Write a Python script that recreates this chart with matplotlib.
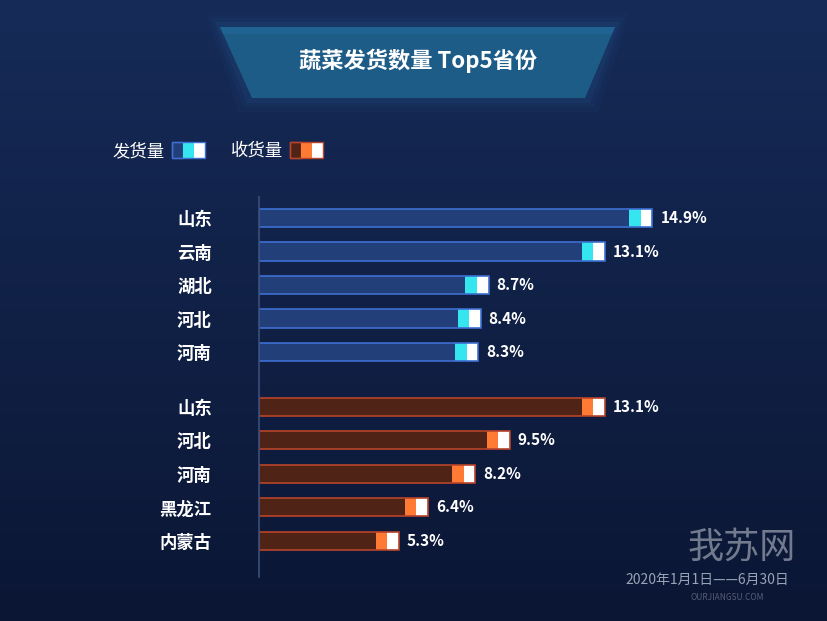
import numpy as np
import matplotlib
matplotlib.use("Agg")
import matplotlib.pyplot as plt
from matplotlib.patches import Polygon, Rectangle

plt.rcParams['font.family'] = ['Noto Sans CJK SC', 'DejaVu Sans']

# ---------------- data ----------------
title = "蔬菜发货数量 Top5省份"
send_label = "发货量"
recv_label = "收货量"
send_provinces = ["山东", "云南", "湖北", "河北", "河南"]
send_values = [14.9, 13.1, 8.7, 8.4, 8.3]
recv_provinces = ["山东", "河北", "河南", "黑龙江", "内蒙古"]
recv_values = [13.1, 9.5, 8.2, 6.4, 5.3]
date_text = "2020年1月1日——6月30日"

W, H = 828, 621
fig = plt.figure(figsize=(W / 100, H / 100), dpi=100)

# background gradient (top lighter navy, bottom darker)
bg = fig.add_axes([0, 0, 1, 1], zorder=-10)
grad = np.linspace(0, 1, 256).reshape(-1, 1)
top = np.array([0x16, 0x2b, 0x58]) / 255
bot = np.array([0x0b, 0x16, 0x34]) / 255
img = top[None, None, :] * (1 - grad[..., None]) + bot[None, None, :] * grad[..., None]
bg.imshow(img, aspect='auto', extent=[0, W, H, 0], origin='upper')
bg.set_xlim(0, W)
bg.set_ylim(H, 0)
bg.axis('off')

# title banner with glow
for k, a in [(14, 0.05), (9, 0.07), (5, 0.10)]:
    bg.add_patch(Polygon([(220 - k, 27 - k), (615 + k, 27 - k), (585 + k, 98 + k), (252 - k, 98 + k)],
                         closed=True, facecolor='#2a6fa8', edgecolor='none', alpha=a))
bg.add_patch(Polygon([(220, 27), (615, 27), (585, 98), (252, 98)], closed=True,
                     facecolor='#1e5c88', edgecolor='none'))
bg.add_patch(Polygon([(220, 27), (615, 27), (612, 34), (223, 34)], closed=True,
                     facecolor='#23679a', edgecolor='none', alpha=0.6))
bg.text(418, 61, title, color='white', fontsize=16, fontweight='bold',
        ha='center', va='center')

# legend
def legend_icon(x, y, body, edge, mid):
    bg.add_patch(Rectangle((x, y), 11, 16, facecolor=body, edgecolor=edge, lw=1))
    bg.add_patch(Rectangle((x + 11, y), 11, 16, facecolor=mid, edgecolor='none'))
    bg.add_patch(Rectangle((x + 22, y), 11, 16, facecolor='white', edgecolor='none'))
    bg.add_patch(Rectangle((x, y), 33, 16, facecolor='none', edgecolor=edge, lw=1))

bg.text(112, 151, send_label, color='white', fontsize=12.5, ha='left', va='center')
legend_icon(172, 142, '#233f7a', '#3d6fd1', '#35e6f0')
bg.text(231, 151, recv_label, color='white', fontsize=12.5, ha='left', va='center')
legend_icon(290, 142, '#4f2316', '#b8442a', '#ff7a35')

# watermark-ish
bg.text(742, 548, "我苏网", color='#c8ccd6', fontsize=26, style='italic',
        ha='center', va='center', alpha=0.55)
bg.text(727, 597, "OURJIANGSU.COM", color='#8a90a0', fontsize=6, ha='center',
        va='center', alpha=0.6)
bg.text(707, 580, date_text, color='#9aa3b5', fontsize=10, ha='center', va='center')

# ---------------- chart ----------------
ax = fig.add_axes([259 / W, 1 - 577 / H, 528 / W, (577 - 197) / H])
ax.set_facecolor('none')
ax.set_xlim(0, 20)
ax.set_ylim(10.716, -0.627)
for s in ['top', 'right', 'bottom']:
    ax.spines[s].set_visible(False)
ax.spines['left'].set_color('#3a4f7a')
ax.spines['left'].set_linewidth(1.2)
ax.set_xticks([])

send_pos = np.arange(len(send_values), dtype=float)
recv_pos = np.arange(len(recv_values), dtype=float) + 5.64
bh = 0.54
tip = 0.44  # width of each end segment in data units

def draw(pos, vals, body, edge, mid):
    for p, v in zip(pos, vals):
        ax.barh(p, v - 2 * tip, height=bh, left=0, color=body, edgecolor='none')
        ax.barh(p, tip, height=bh, left=v - 2 * tip, color=mid, edgecolor='none')
        ax.barh(p, tip, height=bh, left=v - tip, color='white', edgecolor='none')
        ax.barh(p, v, height=bh, left=0, color='none', edgecolor=edge, lw=1.2)
        ax.text(v + 0.3, p, f"{v:.1f}%", color='white', fontsize=11,
                fontweight='bold', ha='left', va='center')

draw(send_pos, send_values, '#233f7a', '#3d6fd1', '#35e6f0')
draw(recv_pos, recv_values, '#4f2316', '#b8442a', '#ff7a35')

ax.set_yticks(list(send_pos) + list(recv_pos))
ax.set_yticklabels(send_provinces + recv_provinces, color='white', fontsize=12.5,
                   fontweight='bold')
ax.tick_params(axis='y', length=0, pad=34)
for lbl in ax.get_yticklabels():
    lbl.set_horizontalalignment('right')

fig.savefig("out.png", dpi=100)
